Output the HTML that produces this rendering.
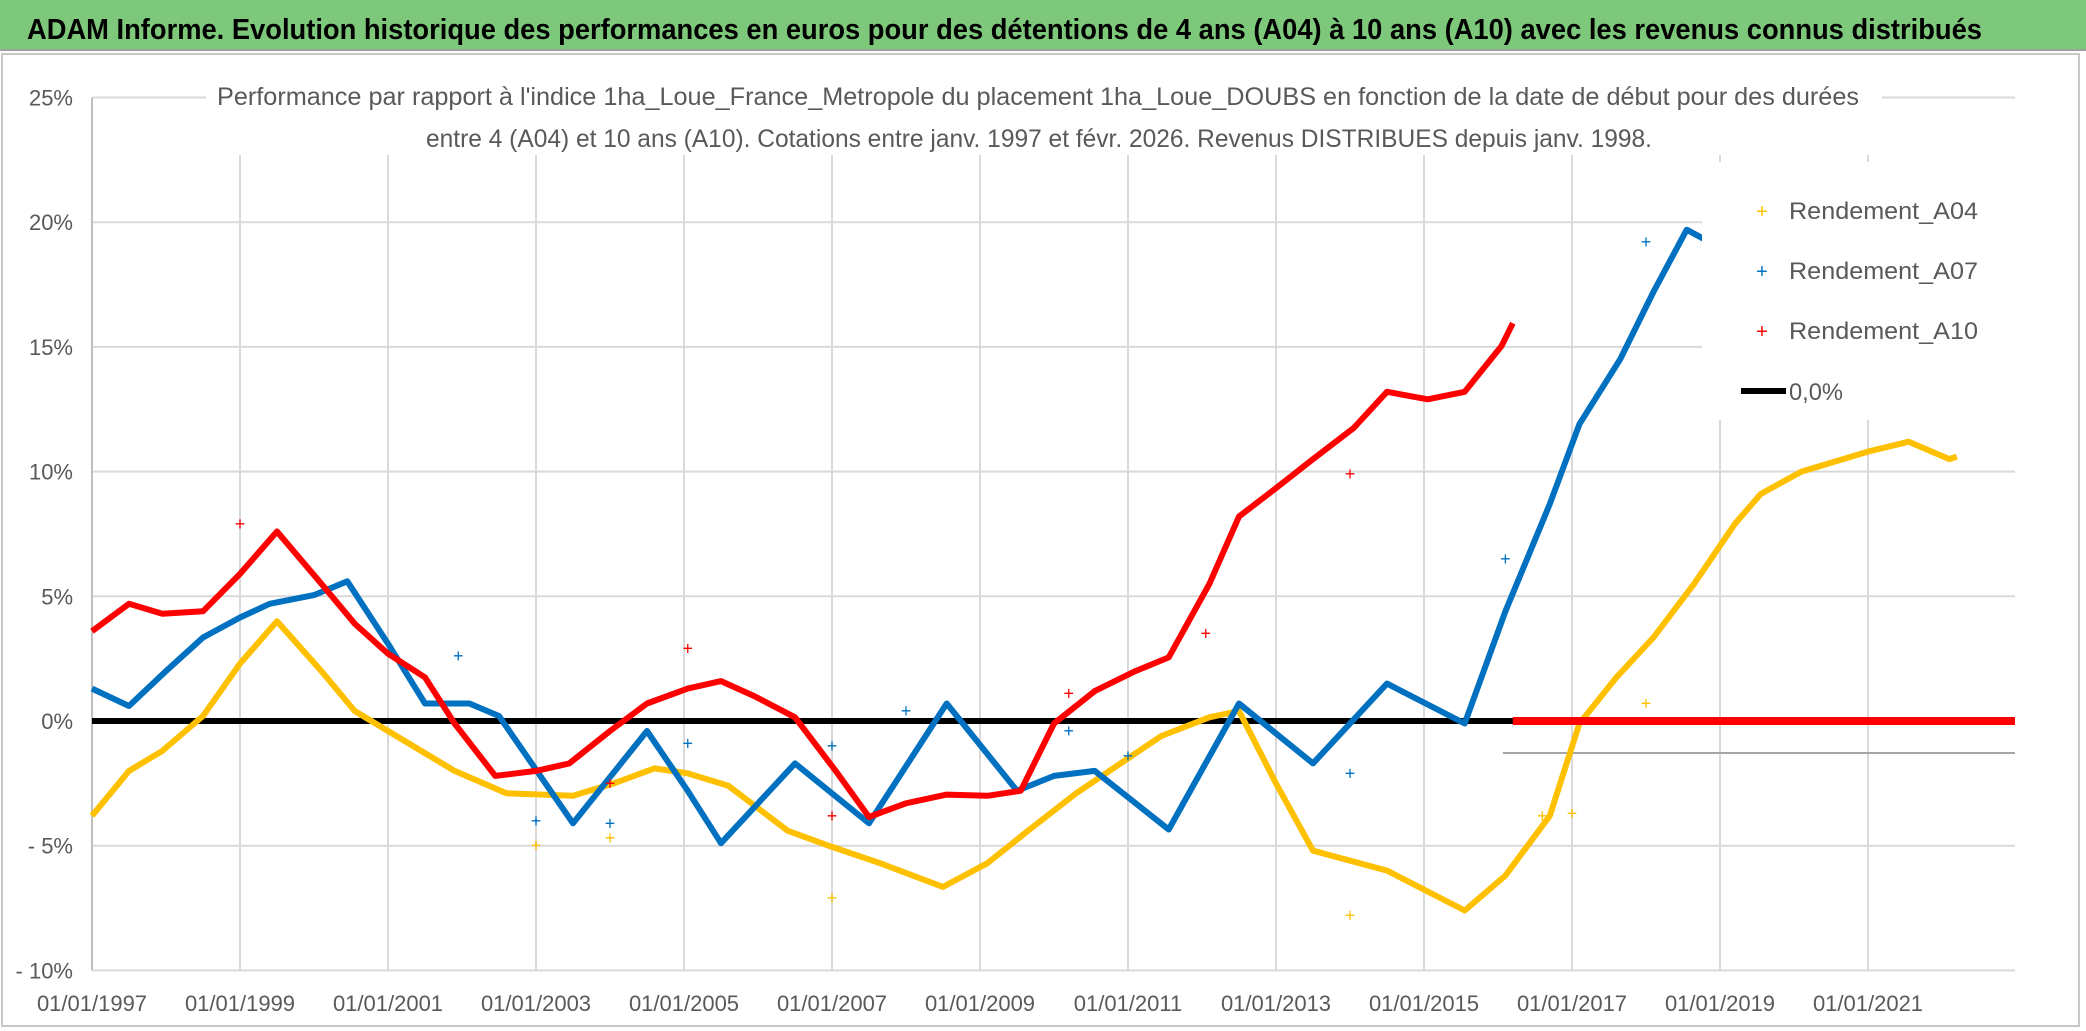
<!DOCTYPE html>
<html><head><meta charset="utf-8"><style>
html,body{margin:0;padding:0;background:#fff;}
svg{display:block;font-family:"Liberation Sans",sans-serif;}
</style></head><body>
<svg id="chart" width="2086" height="1031" viewBox="0 0 2086 1031" xmlns="http://www.w3.org/2000/svg">
<rect x="0" y="0" width="2086" height="50" fill="#7ec87b"/>
<line x1="0" y1="50" x2="2086" y2="50" stroke="#a0a0a0" stroke-width="2"/>
<text x="27" y="39" font-size="29" font-weight="bold" fill="#000" textLength="1955" lengthAdjust="spacingAndGlyphs">ADAM Informe. Evolution historique des performances en euros pour des détentions de 4 ans (A04) à 10 ans (A10) avec les revenus connus distribués</text>
<rect x="2" y="54" width="2077" height="972" fill="none" stroke="#c8c8c8" stroke-width="2"/>
<g id="grid"></g>
<g id="series"></g>
<rect x="206" y="81" width="1676" height="74" fill="#fff"/>
<text x="217" y="105" font-size="25" fill="#595959" textLength="1642" lengthAdjust="spacingAndGlyphs">Performance par rapport à l'indice 1ha_Loue_France_Metropole  du placement 1ha_Loue_DOUBS en fonction de la date de début pour des durées</text>
<text x="426" y="147" font-size="25" fill="#595959" textLength="1226" lengthAdjust="spacingAndGlyphs">entre 4 (A04) et 10 ans (A10). Cotations entre janv. 1997 et févr. 2026. Revenus DISTRIBUES depuis janv. 1998.</text>
<g>
<rect x="1702" y="162" width="313" height="258" fill="#fff"/>
<g><text x="1762" y="218" font-size="20" fill="#ffc000" text-anchor="middle">+</text><text x="1789" y="219" font-size="24" fill="#595959" textLength="189" lengthAdjust="spacingAndGlyphs">Rendement_A04</text></g>
<g><text x="1762" y="278" font-size="20" fill="#0070c0" text-anchor="middle">+</text><text x="1789" y="279" font-size="24" fill="#595959" textLength="189" lengthAdjust="spacingAndGlyphs">Rendement_A07</text></g>
<g><text x="1762" y="338" font-size="20" fill="#ff0000" text-anchor="middle">+</text><text x="1789" y="339" font-size="24" fill="#595959" textLength="189" lengthAdjust="spacingAndGlyphs">Rendement_A10</text></g>
<g><line x1="1741" y1="391" x2="1786" y2="391" stroke="#000" stroke-width="6"/><text x="1789" y="400" font-size="24" fill="#595959" textLength="54" lengthAdjust="spacingAndGlyphs">0,0%</text></g>
</g>
</svg>
<script>
const yTicks = [25, 20, 15, 10, 5, 0, -5, -10];
const yTickLabels = ["25%", "20%", "15%", "10%", "5%", "0%", "- 5%", "- 10%"];
const xTickYears = [1997, 1999, 2001, 2003, 2005, 2007, 2009, 2011, 2013, 2015, 2017, 2019, 2021];
const xTickLabels = ["01/01/1997","01/01/1999","01/01/2001","01/01/2003","01/01/2005","01/01/2007","01/01/2009","01/01/2011","01/01/2013","01/01/2015","01/01/2017","01/01/2019","01/01/2021"];
const a04Years = [1997,1997.5,1997.95,1998.5,1999,1999.5,2000.1,2000.55,2001,2001.9,2002.6,2003.5,2004.05,2004.6,2005.05,2005.6,2006.4,2007,2007.65,2008.5,2009.1,2009.65,2010.3,2010.9,2011.45,2012.1,2012.5,2013,2013.5,2014.5,2015.55,2016.1,2016.7,2017.1,2017.6,2018.1,2018.65,2019.2,2019.55,2020.1,2021,2021.55,2022.1,2022.2];
const a04Values = [-3.8,-2.0,-1.2,0.2,2.3,4.0,2.0,0.4,-0.4,-2.0,-2.9,-3.0,-2.5,-1.9,-2.1,-2.6,-4.4,-5.05,-5.7,-6.65,-5.7,-4.4,-2.9,-1.7,-0.6,0.15,0.4,-2.5,-5.2,-6.0,-7.6,-6.2,-3.8,-0.1,1.75,3.35,5.5,7.9,9.1,10.0,10.8,11.2,10.5,10.6];
const a04ZeroFrom = 2022.2;
const a07Years = [1997,1997.5,1998,1998.5,1999,1999.4,2000,2000.45,2001,2001.5,2002.1,2002.5,2003.5,2004.5,2005.05,2005.5,2006.5,2007.5,2008.55,2009.5,2010,2010.55,2011.55,2012.5,2013.5,2014.5,2015.55,2016.1,2016.7,2017.1,2017.65,2018.1,2018.55,2018.8];
const a07Values = [1.3,0.6,2.0,3.35,4.15,4.7,5.05,5.6,3.1,0.7,0.7,0.2,-4.1,-0.4,-2.8,-4.9,-1.7,-4.1,0.7,-2.8,-2.2,-2.0,-4.35,0.7,-1.7,1.5,-0.1,4.4,8.7,11.9,14.5,17.2,19.7,19.3];
const a10Years = [1997,1997.5,1997.95,1998.5,1999,1999.5,2000.1,2000.55,2001,2001.5,2001.9,2002.45,2003,2003.45,2004,2004.5,2005.05,2005.5,2005.95,2006.5,2007.05,2007.5,2008,2008.55,2009.1,2009.55,2010,2010.55,2011.1,2011.55,2012.1,2012.5,2013.05,2013.5,2014.05,2014.5,2015.05,2015.55,2016.05,2016.2];
const a10Values = [3.6,4.7,4.3,4.4,5.9,7.6,5.5,3.9,2.7,1.75,-0.1,-2.2,-2.0,-1.7,-0.4,0.7,1.3,1.6,1.0,0.15,-2.0,-3.85,-3.3,-2.95,-3.0,-2.8,-0.1,1.2,2.0,2.55,5.5,8.2,9.45,10.5,11.75,13.2,12.9,13.2,15.05,15.95];
const a10ZeroFrom = 2016.2;
const outlierYearsA04 = [2003,2004.0,2007,2014.0,2016.6,2017.0,2018.0];
const outlierValuesA04 = [-5.0,-4.7,-7.1,-7.8,-3.8,-3.7,0.7];
const outlierYearsA07 = [2001.95,2003,2004.0,2005.05,2007,2008,2010.2,2011,2014.0,2016.1,2018.0];
const outlierValuesA07 = [2.6,-4.0,-4.1,-0.9,-1.0,0.4,-0.4,-1.4,-2.1,6.5,19.2];
const outlierYearsA10 = [1999,2004.0,2005.05,2007,2010.2,2012.05,2014.0];
const outlierValuesA10 = [7.9,-2.5,2.9,-3.8,1.1,3.5,9.9];

const NS = "http://www.w3.org/2000/svg";
const X0 = 92, X1 = 2015, PX_YEAR = 74, Y0 = 721, PX_PCT = 24.94;
const xs = yr => X0 + (yr - 1997) * PX_YEAR;
const ys = v => Y0 - v * PX_PCT;
function mk(tag, attrs, parent) { const e = document.createElementNS(NS, tag); for (const k in attrs) e.setAttribute(k, attrs[k]); parent.appendChild(e); return e; }
const grid = document.getElementById('grid');
const series = document.getElementById('series');

yTicks.forEach((t, i) => {
  const l = mk('line', {x1: X0, x2: X1, y1: ys(t), y2: ys(t), stroke: '#d9d9d9', 'stroke-width': 2}, grid);
  
  
  const tx = mk('text', {x: 73, y: ys(t) + 8, 'font-size': 22, fill: '#595959', 'text-anchor': 'end'}, grid);
  tx.textContent = yTickLabels[i];
  
  
});
xTickYears.forEach((yr, i) => {
  const l = mk('line', {x1: xs(yr), x2: xs(yr), y1: ys(25), y2: ys(-10), stroke: i === 0 ? '#bfbfbf' : '#d9d9d9', 'stroke-width': 2}, grid);
  
  
  const tx = mk('text', {x: xs(yr), y: 1011, 'font-size': 22, fill: '#595959', 'text-anchor': 'middle'}, grid);
  tx.textContent = xTickLabels[i];
  
  
});
const extra = mk('line', {x1: 1503, x2: X1, y1: 753, y2: 753, stroke: '#a6a6a6', 'stroke-width': 2}, grid);



const zl = mk('line', {x1: X0, x2: X1, y1: ys(0), y2: ys(0), stroke: '#000', 'stroke-width': 6}, series);



function drawSeries(years, vals, color, name, zeroFrom) {
  const pts = years.map((y, i) => xs(y).toFixed(1) + ',' + ys(vals[i]).toFixed(1)).join(' ');
  const p = mk('polyline', {points: pts, fill: 'none', stroke: color, 'stroke-width': 6, 'stroke-linejoin': 'round'}, series);
  
  
  if (zeroFrom !== null) {
    const z = mk('line', {x1: xs(zeroFrom), x2: X1, y1: ys(0), y2: ys(0), stroke: color, 'stroke-width': 8}, series);
    
    
  }
}
function drawOutliers(years, vals, color, name) {
  years.forEach((y, i) => {
    const t = mk('text', {x: xs(y), y: ys(vals[i]) + 6, 'font-size': 18, fill: color, 'text-anchor': 'middle'}, series);
    t.textContent = '+';
    
    
  });
}
drawSeries(a04Years, a04Values, '#ffc000', 'series-a04', a04ZeroFrom);
drawSeries(a07Years, a07Values, '#0070c0', 'series-a07', null);
drawSeries(a10Years, a10Values, '#ff0000', 'series-a10', a10ZeroFrom);
drawOutliers(outlierYearsA04, outlierValuesA04, '#ffc000', 'outlier-a04');
drawOutliers(outlierYearsA07, outlierValuesA07, '#0070c0', 'outlier-a07');
drawOutliers(outlierYearsA10, outlierValuesA10, '#ff0000', 'outlier-a10');
</script>
</body></html>
